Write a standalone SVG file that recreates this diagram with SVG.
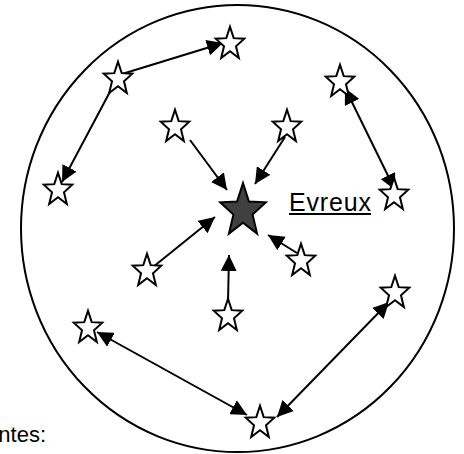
<svg xmlns="http://www.w3.org/2000/svg" width="464" height="454" viewBox="0 0 464 454">
<style>
.ln{stroke:#000;stroke-width:2;fill:none}
.st{fill:#fff;stroke:#000;stroke-width:2;stroke-linejoin:miter}
.big{fill:#404040;stroke:#000;stroke-width:2}
.txt{font-family:"Liberation Sans",Arial,sans-serif;fill:#000}
</style>
<defs>
<path id="star" d="M0,-1 L0.247,-0.34 L0.951,-0.309 L0.399,0.13 L0.588,0.809 L0,0.42 L-0.588,0.809 L-0.399,0.13 L-0.951,-0.309 L-0.247,-0.34 Z" vector-effect="non-scaling-stroke"/>
<marker id="ah" viewBox="0 0 10 10" refX="10" refY="5" markerWidth="8" markerHeight="8" markerUnits="strokeWidth" orient="auto-start-reverse">
<path d="M0,0 L10,5 L0,10 Z" fill="#000"/>
</marker>
</defs>
<ellipse cx="237.5" cy="228.5" rx="216.5" ry="223.5" fill="none" stroke="#000" stroke-width="2"/>
<g id="connectors">
<line class="ln" x1="122" y1="74" x2="223" y2="43" marker-end="url(#ah)"/>
<line class="ln" x1="112" y1="88" x2="62" y2="182" marker-end="url(#ah)"/>
<line class="ln" x1="190" y1="140" x2="227" y2="190" marker-end="url(#ah)"/>
<line class="ln" x1="285" y1="137" x2="255" y2="184" marker-end="url(#ah)"/>
<line class="ln" x1="153" y1="267" x2="215" y2="217" marker-end="url(#ah)"/>
<line class="ln" x1="297" y1="253" x2="268" y2="235" marker-end="url(#ah)"/>
<line class="ln" x1="228" y1="302" x2="229" y2="255" marker-end="url(#ah)"/>
<line class="ln" x1="345" y1="88" x2="395" y2="190" marker-start="url(#ah)" marker-end="url(#ah)"/>
<line class="ln" x1="97" y1="332" x2="247" y2="415" marker-start="url(#ah)" marker-end="url(#ah)"/>
<line class="ln" x1="389" y1="302" x2="277" y2="417" marker-start="url(#ah)" marker-end="url(#ah)"/>
</g>
<g id="star-a"><use href="#star" class="st" transform="translate(230,44) scale(15,17.25)"/></g>
<g id="star-b"><use href="#star" class="st" transform="translate(118,79) scale(15,17.25)"/></g>
<g id="star-c"><use href="#star" class="st" transform="translate(58,190) scale(15,17.25)"/></g>
<g id="star-d"><use href="#star" class="st" transform="translate(175,127) scale(15,17.25)"/></g>
<g id="star-e"><use href="#star" class="st" transform="translate(287,127) scale(15,17.25)"/></g>
<g id="star-f"><use href="#star" class="st" transform="translate(340,82) scale(15,17.25)"/></g>
<g id="star-g"><use href="#star" class="st" transform="translate(394,195) scale(15,17.25)"/></g>
<g id="star-h"><use href="#star" class="st" transform="translate(301,261) scale(15,17.25)"/></g>
<g id="star-i"><use href="#star" class="st" transform="translate(147,271) scale(15,17.25)"/></g>
<g id="star-j"><use href="#star" class="st" transform="translate(228,316) scale(15,17.25)"/></g>
<g id="star-k"><use href="#star" class="st" transform="translate(88,328) scale(15,17.25)"/></g>
<g id="star-l"><use href="#star" class="st" transform="translate(395,293) scale(15,17.25)"/></g>
<g id="star-m"><use href="#star" class="st" transform="translate(260,423) scale(15,17.25)"/></g>
<g id="evreux">
<use href="#star" class="big" transform="translate(243,211) scale(24,28)"/>
<text class="txt" x="289" y="211" font-size="25" textLength="82">Evreux</text>
<rect x="289" y="213" width="82" height="2" fill="#000"/>
</g>
<text class="txt" x="46" y="442" font-size="22" text-anchor="end">ntes:</text>
</svg>
